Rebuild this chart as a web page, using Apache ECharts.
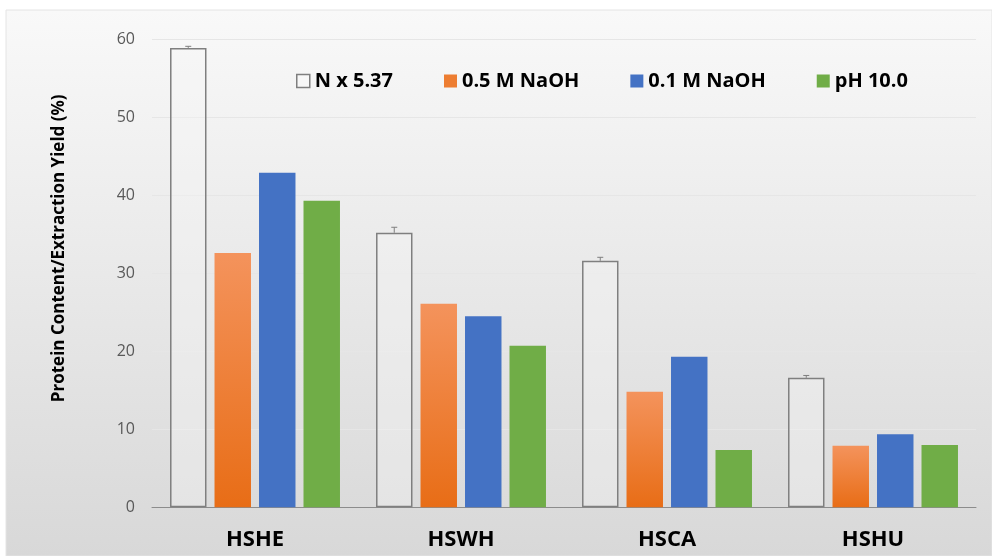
<!DOCTYPE html>
<html>
<head>
<meta charset="utf-8">
<script src="https://cdn.jsdelivr.net/npm/echarts@6/dist/echarts.min.js"></script>
<style>
  html, body { margin: 0; padding: 0; background: #fff; }
  #chart { width: 992px; height: 556px; }
</style>
</head>
<body>
<div id="chart"></div>
<script>
// values
const categories = ["HSHE", "HSWH", "HSCA", "HSHU"];
const seriesNames = ["N x 5.37", "0.5 M NaOH", "0.1 M NaOH", "pH 10.0"];
const nFactor = [58.9, 35.2, 31.6, 16.6];
const naoh05 = [32.6, 26.1, 14.8, 7.9];
const naoh01 = [42.9, 24.5, 19.3, 9.35];
const ph10 = [39.3, 20.7, 7.35, 8.0];
const nFactorErr = [0.2, 0.7, 0.45, 0.3];
const yTicks = [0, 10, 20, 30, 40, 50, 60];

const CAT_GAP = 0.175;
const BAR_GAP = 0.22;
const FONT = "'Open Sans', 'Noto Sans', sans-serif";

const chart = echarts.init(document.getElementById("chart"), null, { renderer: "canvas" });

function errorBar(params, api) {
    const x = api.value(0);
    const v = api.value(1);
    const e = api.value(2);
    const band = api.size([1, 0])[0];
    const bw = band * (1 - CAT_GAP) / (4 + 3 * BAR_GAP);
    const off = -(1.5 * bw + 1.5 * BAR_GAP * bw);
    const base = api.coord([x, v]);
    const top = api.coord([x, v + e]);
    const cx = base[0] + off;
    const st = { stroke: "#7f7f7f", lineWidth: 1 };
    return {
        type: "group",
        children: [
            { type: "line", shape: { x1: cx, y1: base[1], x2: cx, y2: top[1] }, style: st },
            { type: "line", shape: { x1: cx - 3, y1: top[1], x2: cx + 3, y2: top[1] }, style: st }
        ]
    };
}

const orangeGrad = new echarts.graphic.LinearGradient(0, 0, 0, 1, [
    { offset: 0, color: "#f4935c" },
    { offset: 1, color: "#e86d16" }
]);

chart.setOption({
    animation: false,
    backgroundColor: "#ffffff",
    graphic: [{
        type: "rect",
        z: -10,
        shape: { x: 6, y: 10, width: 986, height: 546 },
        style: {
            fill: new echarts.graphic.LinearGradient(0, 0, 0, 1, [
                { offset: 0, color: "#f9f9f9" },
                { offset: 1, color: "#d8d8d8" }
            ]),
            stroke: "#e4e4e4",
            lineWidth: 1
        }
    }],
    legend: {
        left: 291,
        top: 66,
        itemWidth: 13,
        itemHeight: 13,
        itemGap: 51,
        icon: "rect",
        textStyle: { fontFamily: FONT, fontSize: 20, fontWeight: "bold", color: "#000" },
        data: [
            { name: seriesNames[0], itemStyle: { color: "#f7f7f7", borderColor: "#7f7f7f", borderWidth: 1.5 } },
            { name: seriesNames[1], itemStyle: { color: "#ed7d31" } },
            { name: seriesNames[2], itemStyle: { color: "#4472c4" } },
            { name: seriesNames[3], itemStyle: { color: "#70ad47" } }
        ]
    },
    grid: { left: 152, right: 16, top: 39.3, bottom: 48.7 },
    xAxis: {
        type: "category",
        data: categories,
        axisLine: { lineStyle: { color: "#8c8c8c", width: 1 } },
        axisTick: { show: false },
        axisLabel: {
            margin: 21,
            fontFamily: FONT,
            fontSize: 22,
            fontWeight: "bold",
            color: "#000"
        }
    },
    yAxis: {
        type: "value",
        min: yTicks[0],
        max: yTicks[yTicks.length - 1],
        interval: 10,
        name: "Protein Content/Extraction Yield (%)",
        nameLocation: "middle",
        nameGap: 84,
        nameTextStyle: {
            fontFamily: FONT,
            fontSize: 17,
            fontWeight: "bold",
            color: "#000",
            padding: [0, 0, 0, 50]
        },
        axisLine: { show: false },
        axisTick: { show: false },
        axisLabel: { margin: 17, fontFamily: FONT, fontSize: 16, color: "#595959" },
        splitLine: { lineStyle: { color: "#e6e6e6", width: 1 } }
    },
    series: [
        {
            name: seriesNames[0], type: "bar", data: nFactor,
            barCategoryGap: (CAT_GAP * 100) + "%", barGap: (BAR_GAP * 100) + "%",
            itemStyle: { color: "rgba(245,245,245,0.35)", borderColor: "#7f7f7f", borderWidth: 1.5 }
        },
        {
            name: seriesNames[1], type: "bar", data: naoh05,
            itemStyle: { color: orangeGrad }
        },
        {
            name: seriesNames[2], type: "bar", data: naoh01,
            itemStyle: { color: "#4472c4" }
        },
        {
            name: seriesNames[3], type: "bar", data: ph10,
            itemStyle: { color: "#70ad47" }
        },
        {
            name: "err", type: "custom",
            renderItem: errorBar,
            data: categories.map((c, i) => [i, nFactor[i], nFactorErr[i]]),
            z: 5
        }
    ]
});
</script>
</body>
</html>
